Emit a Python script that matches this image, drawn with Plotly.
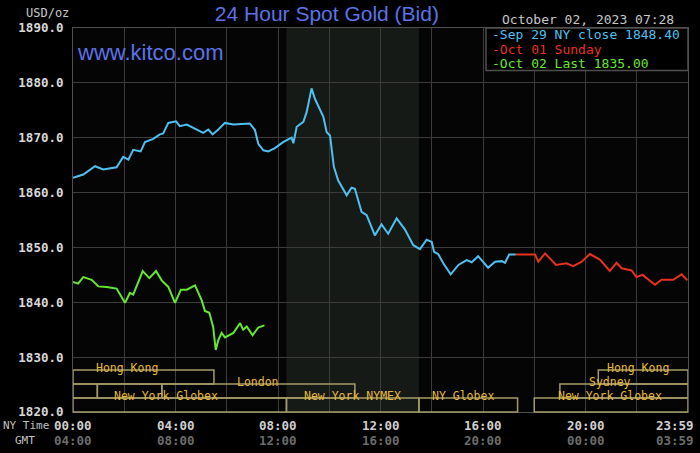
import plotly.graph_objects as go

# hours after midnight NY time and bid price
sep29_hours = [0.0, 0.4, 0.86, 1.18, 1.7, 1.96, 2.16, 2.35, 2.64, 2.81, 3.13, 3.39, 3.52, 3.72,
               4.02, 4.17, 4.44, 4.83, 5.08, 5.28, 5.45, 5.67, 5.93, 6.26, 6.9, 7.1, 7.23, 7.43,
               7.62, 7.88, 8.2, 8.4, 8.53, 8.6, 8.73, 8.99, 9.12, 9.31, 9.44, 9.77, 9.9, 10.03,
               10.18, 10.35, 10.68, 10.87, 11.0, 11.26, 11.46, 11.78, 12.04, 12.3, 12.63, 12.95,
               13.28, 13.54, 13.8, 14.0, 14.09, 14.25, 14.45, 14.74, 15.04, 15.36, 15.56, 15.81,
               16.2, 16.47, 16.73, 16.86, 17.02, 17.28]
sep29_price = [1862.7, 1863.3, 1864.8, 1864.2, 1864.6, 1866.5, 1866.0, 1867.8, 1867.5, 1869.2,
               1869.8, 1870.6, 1870.8, 1872.7, 1873.0, 1872.1, 1872.4, 1871.4, 1870.9, 1871.5,
               1870.6, 1871.5, 1872.7, 1872.4, 1872.6, 1871.4, 1868.9, 1867.7, 1867.5, 1868.1,
               1869.2, 1869.7, 1870.0, 1869.0, 1872.0, 1872.9, 1874.7, 1879.0, 1877.1, 1873.8,
               1871.0, 1870.4, 1864.7, 1862.2, 1859.5, 1860.9, 1860.7, 1856.5, 1855.9, 1852.2,
               1854.2, 1852.5, 1855.3, 1853.3, 1850.4, 1849.7, 1851.4, 1851.0, 1849.2, 1848.8,
               1847.1, 1845.1, 1846.8, 1847.7, 1847.3, 1848.4, 1846.3, 1847.4, 1847.5, 1847.2,
               1848.7, 1848.7]

oct01_hours = [17.28, 18.03, 18.16, 18.42, 18.61, 18.85, 19.26, 19.52, 19.85, 20.17, 20.56,
               20.95, 21.21, 21.41, 21.8, 21.99, 22.23, 22.71, 22.97, 23.42, 23.75, 23.98]
oct01_price = [1848.7, 1848.7, 1847.4, 1848.9, 1848.0, 1846.8, 1847.1, 1846.6, 1847.4, 1848.8,
               1847.8, 1845.7, 1847.2, 1846.2, 1845.8, 1844.6, 1845.0, 1843.2, 1844.1, 1844.1,
               1845.1, 1844.0]

oct02_hours = [0.0, 0.2, 0.4, 0.73, 0.99, 1.31, 1.7, 2.03, 2.22, 2.35, 2.72, 2.98, 3.24, 3.46,
               3.72, 3.98, 4.21, 4.44, 4.76, 5.02, 5.15, 5.32, 5.47, 5.57, 5.67, 5.8, 5.93, 6.26,
               6.52, 6.64, 6.78, 7.01, 7.23, 7.47]
oct02_price = [1843.7, 1843.4, 1844.6, 1844.1, 1842.9, 1842.8, 1842.5, 1839.9, 1841.7, 1841.4,
               1845.7, 1844.4, 1845.7, 1844.0, 1842.8, 1839.9, 1842.3, 1842.3, 1843.1, 1840.4,
               1838.4, 1838.1, 1835.5, 1831.3, 1833.1, 1834.4, 1833.6, 1834.4, 1836.2, 1835.0,
               1835.6, 1834.0, 1835.4, 1835.8]

ny_tick_labels = ["00:00", "04:00", "08:00", "12:00", "16:00", "20:00", "23:59"]
gmt_tick_labels = ["04:00", "08:00", "12:00", "16:00", "20:00", "00:00", "03:59"]
tick_hours = [0, 4, 8, 12, 16, 20, 23.5]

# trading sessions: label, start, end, row (1 = top), label centre
session_names = ["Hong Kong", "Hong Kong", "", "", "London", "Sydney",
                 "New York Globex", "New York NYMEX", "NY Globex", "New York Globex"]
session_start = [0, 20.5, 0, 0.95, 3.47, 19.0, 0, 8.33, 13.5, 18.0]
session_end = [5.5, 24, 0.95, 3.47, 11.0, 24, 8.33, 13.5, 17.35, 24]
session_row = [1, 1, 2, 2, 2, 2, 3, 3, 3, 3]
session_label_at = [2.1, 22.05, 0, 0, 7.2, 20.95, 3.63, 10.92, 15.2, 20.95]

legend_texts = ["-Sep 29 NY close 1848.40", "-Oct 01 Sunday", "-Oct 02 Last 1835.00"]

BLUE = "#4fc0f0"
RED = "#e8321e"
GREEN = "#66e830"
MONO = "DejaVu Sans Mono"

fig = go.Figure()
fig.add_trace(go.Scatter(x=sep29_hours, y=sep29_price, mode="lines",
                         line=dict(color=BLUE, width=2)))
fig.add_trace(go.Scatter(x=oct01_hours, y=oct01_price, mode="lines",
                         line=dict(color=RED, width=2)))
fig.add_trace(go.Scatter(x=oct02_hours, y=oct02_price, mode="lines",
                         line=dict(color=GREEN, width=2)))

# NY trading hours shading
fig.add_shape(type="rect", xref="x", yref="paper", x0=8.33, x1=13.5, y0=0, y1=1,
              fillcolor="#161a16", line=dict(width=0), layer="below")

row_h = 0.0365
for name, s, e, r, lx in zip(session_names, session_start, session_end, session_row,
                             session_label_at):
    y0 = (3 - r) * row_h
    fig.add_shape(type="rect", xref="x", yref="paper", x0=s, x1=e, y0=y0, y1=y0 + row_h,
                  line=dict(color="#a49c68", width=1.5), fillcolor="rgba(0,0,0,0)")
    if name:
        fig.add_annotation(x=lx, y=y0 + row_h / 2, xref="x", yref="paper", text=name,
                           showarrow=False, font=dict(family=MONO, size=11.5, color="#e6b838"))

plot_w = 700 - 73 - 12
plot_h = 453 - 28 - 41

# legend box
fig.add_shape(type="rect", xref="paper", yref="paper", x0=0.6715, x1=1.0, y0=0.889, y1=1.0,
              fillcolor="#000000", line=dict(color="#505050", width=1.5))
for i, (t, c) in enumerate(zip(legend_texts, [BLUE, RED, GREEN])):
    fig.add_annotation(x=(490 - 73) / plot_w, y=1 - (35 + i * 14.2 - 28) / plot_h,
                       xref="paper", yref="paper", text=t,
                       showarrow=False, xanchor="left", yanchor="middle",
                       font=dict(family=MONO, size=13, color=c))

fig.add_annotation(x=0.004, y=1 - (52 - 28) / plot_h, xref="paper", yref="paper",
                   text="www.kitco.com", showarrow=False, xanchor="left", yanchor="middle",
                   font=dict(family="Liberation Sans", size=22, color="#5b73e8"))

# axis labels along the bottom
for h, a, b in zip(tick_hours, ny_tick_labels, gmt_tick_labels):
    fig.add_annotation(x=h, y=-0.034, xref="x", yref="paper", text="<b>" + a + "</b>",
                       showarrow=False, yanchor="middle",
                       font=dict(family=MONO, size=12.5, color="#d0d0d0"))
    fig.add_annotation(x=h, y=-0.074, xref="x", yref="paper", text="<b>" + b + "</b>",
                       showarrow=False, yanchor="middle",
                       font=dict(family=MONO, size=12.5, color="#6c6c6c"))

fig.add_annotation(x=-0.08, y=1.04, xref="paper", yref="paper", text="USD/oz",
                   showarrow=False, xanchor="left", yanchor="middle",
                   font=dict(family=MONO, size=12, color="#c8c8c8"))
fig.add_annotation(x=0.98, y=1.022, xref="paper", yref="paper",
                   text="October 02, 2023 07:28", showarrow=False, xanchor="right",
                   yanchor="middle", font=dict(family=MONO, size=13, color="#c8c8c8"))
fig.add_annotation(x=-0.117, y=-0.034, xref="paper", yref="paper", text="NY Time",
                   showarrow=False, xanchor="left", yanchor="middle",
                   font=dict(family=MONO, size=11, color="#c0c0c0"))
fig.add_annotation(x=-0.098, y=-0.074, xref="paper", yref="paper", text="GMT",
                   showarrow=False, xanchor="left", yanchor="middle",
                   font=dict(family=MONO, size=11, color="#c0c0c0"))

fig.update_layout(
    width=700, height=453,
    margin=dict(l=73, r=12, t=28, b=41),
    paper_bgcolor="#000000", plot_bgcolor="#050505",
    showlegend=False,
    title=dict(text="24 Hour Spot Gold (Bid)", x=0.467, xanchor="center", y=0.97,
               yanchor="middle", font=dict(family="Liberation Sans", size=21, color="#5b73e8")),
    xaxis=dict(range=[0, 24], dtick=2, showticklabels=False, showgrid=True,
               gridcolor="#3c3c3c", gridwidth=1, zeroline=False, showline=True,
               linecolor="#505050", mirror=True, ticks=""),
    yaxis=dict(range=[1820, 1890], dtick=10, tickformat=".1f", showgrid=True,
               gridcolor="#3c3c3c", gridwidth=1, zeroline=False, showline=True,
               linecolor="#505050", mirror=True, ticks="", ticklabelstandoff=6,
               tickfont=dict(family=MONO, size=12.5, color="#d8d8d8", weight="bold")),
)

fig.write_html("out.html", config={"displayModeBar": False},
               post_script="document.body.style.margin='0';"
                           "document.body.style.background='#000';")
